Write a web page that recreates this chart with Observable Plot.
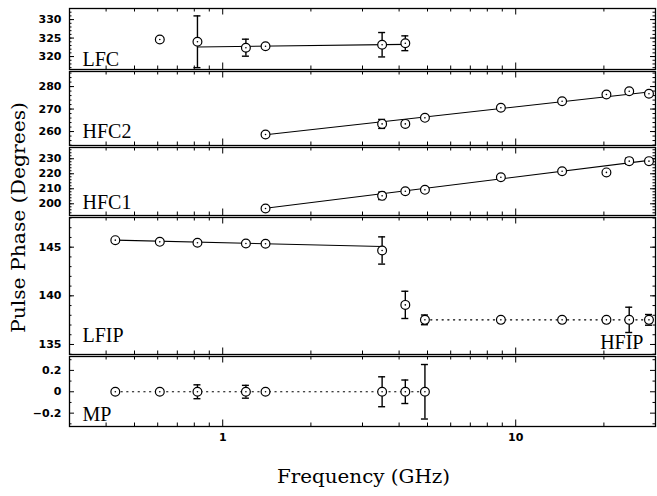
<!DOCTYPE html>
<html><head><meta charset="utf-8">
<script src="https://cdn.jsdelivr.net/npm/d3@7"></script>
<script src="https://cdn.jsdelivr.net/npm/@observablehq/plot@0.6"></script>
<style>
body{margin:0;background:#fff}
#chart{position:relative;width:657px;height:496px;overflow:hidden;background:#fff}
#chart svg{position:absolute;left:0}
</style></head><body><div id="chart"></div>
<script>
// ---------- data ----------
const xDomain = [0.3, 30];
const xMajor = [1, 10];
const xMinor = [0.4, 0.5, 0.6, 0.7, 0.8, 0.9, 2, 3, 4, 5, 6, 7, 8, 9, 20];

const lfcFreq  = [0.61, 0.82, 1.2, 1.4, 3.5, 4.2];
const lfcPhase = [324.6, 324.0, 322.4, 322.8, 323.2, 323.6];
const lfcErr   = [0, 7.0, 2.3, 0, 3.3, 2.0];
const lfcFitFreq  = [0.82, 4.2];
const lfcFitPhase = [322.6, 323.3];
const lfcMajor = [320, 325, 330];

const hfc2Freq  = [1.4, 3.5, 4.2, 4.9, 8.9, 14.4, 20.4, 24.4, 28.5];
const hfc2Phase = [258.7, 263.4, 263.4, 266.1, 270.6, 273.5, 276.5, 277.9, 276.8];
const hfc2Err   = [0, 2.0, 0, 0, 0, 0, 0, 0, 0];
const hfc2FitFreq  = [1.4, 28.5];
const hfc2FitPhase = [258.6, 277.6];
const hfc2Major = [260, 270, 280];

const hfc1Freq  = [1.4, 3.5, 4.2, 4.9, 8.9, 14.4, 20.4, 24.4, 28.5];
const hfc1Phase = [196.9, 205.3, 208.4, 209.3, 217.7, 221.7, 220.9, 228.4, 228.4];
const hfc1Err   = [0, 2.5, 0, 0, 0, 0, 0, 2.0, 0];
const hfc1FitFreq  = [1.4, 28.5];
const hfc1FitPhase = [197.0, 228.9];
const hfc1Major = [200, 210, 220, 230];

const lfipFreq  = [0.43, 0.61, 0.82, 1.2, 1.4, 3.5];
const lfipPhase = [145.72, 145.55, 145.45, 145.38, 145.35, 144.66];
const lfipErr   = [0, 0, 0, 0, 0, 1.4];
const lfipFitFreq  = [0.43, 3.5];
const lfipFitPhase = [145.72, 145.07];

const hfipFreq  = [4.2, 4.9, 8.9, 14.4, 20.4, 24.4, 28.5];
const hfipPhase = [139.07, 137.53, 137.53, 137.53, 137.53, 137.53, 137.53];
const hfipErr   = [1.4, 0.5, 0, 0, 0, 1.3, 0.55];
const hfipFitFreq  = [4.9, 28.5];
const hfipFitPhase = [137.53, 137.53];
const lfipMajor = [135, 140, 145];

const mpFreq  = [0.43, 0.61, 0.82, 1.2, 1.4, 3.5, 4.2, 4.9];
const mpPhase = [0, 0, 0, 0, 0, 0, 0, 0];
const mpErr   = [0, 0, 0.065, 0.06, 0, 0.14, 0.11, 0.255];
const mpFitFreq  = [0.43, 4.9];
const mpFitPhase = [0, 0];
const mpMajor = [-0.2, 0, 0.2];

const yTitle = "Pulse Phase (Degrees)";
const xTitle = "Frequency (GHz)";

// ---------- layout ----------
const LEFT = 69, RIGHT = 655, WIDTH = 657;
const zip = (f, p, e) => f.map((v, i) => ({f: v, p: p[i], e: e ? e[i] : 0}));
const fmt = d => (d < 0 ? "\u2212" : "") + String(Math.abs(d));

const panels = [
  {top: 8, bottom: 69, domain: [316.5, 333], major: lfcMajor, minor: d3.range(317, 333.5, 1),
   series: [{pts: zip(lfcFreq, lfcPhase, lfcErr), fit: zip(lfcFitFreq, lfcFitPhase), dotted: false}],
   labels: [{text: "LFC", anchor: "left", dy: 4}]},
  {top: 71, bottom: 145, domain: [253.8, 286.7], major: hfc2Major, minor: d3.range(254, 287, 2),
   series: [{pts: zip(hfc2Freq, hfc2Phase, hfc2Err), fit: zip(hfc2FitFreq, hfc2FitPhase), dotted: false}],
   labels: [{text: "HFC2", anchor: "left", dy: 7.5}]},
  {top: 147, bottom: 215, domain: [192.2, 237.5], major: hfc1Major, minor: d3.range(194, 237, 2),
   series: [{pts: zip(hfc1Freq, hfc1Phase, hfc1Err), fit: zip(hfc1FitFreq, hfc1FitPhase), dotted: false}],
   labels: [{text: "HFC1", anchor: "left", dy: 7}]},
  {top: 217, bottom: 354, domain: [133.97, 148.05], major: lfipMajor, minor: d3.range(134, 148.5, 1),
   series: [{pts: zip(lfipFreq, lfipPhase, lfipErr), fit: zip(lfipFitFreq, lfipFitPhase), dotted: false},
            {pts: zip(hfipFreq, hfipPhase, hfipErr), fit: zip(hfipFitFreq, hfipFitPhase), dotted: true}],
   labels: [{text: "LFIP", anchor: "left", dy: 13}, {text: "HFIP", anchor: "right", dy: 6}]},
  {top: 356, bottom: 426, domain: [-0.325, 0.33], major: mpMajor, minor: [-0.3, -0.1, 0.1, 0.3],
   series: [{pts: zip(mpFreq, mpPhase, mpErr), fit: zip(mpFitFreq, mpFitPhase), dotted: true}],
   labels: [{text: "MP", anchor: "left", dy: 6}], xLabels: true}
];

const chart = document.getElementById("chart");

panels.forEach(cfg => {
  const H = cfg.bottom - cfg.top;
  const W = RIGHT - LEFT;
  const mt = 1, mb = cfg.xLabels ? 30 : 1;
  const marks = [];
  const xt = (vals, len) => [
    Plot.ruleX(vals, {x: d => d, insetBottom: H - len, stroke: "black", strokeWidth: 1}),
    Plot.ruleX(vals, {x: d => d, insetTop: H - len, stroke: "black", strokeWidth: 1})
  ];
  const yt = (vals, len) => [
    Plot.ruleY(vals, {y: d => d, insetRight: W - len, stroke: "black", strokeWidth: 1}),
    Plot.ruleY(vals, {y: d => d, insetLeft: W - len, stroke: "black", strokeWidth: 1})
  ];
  marks.push(...xt(xMajor, 6.5), ...xt(xMinor, 3.5), ...yt(cfg.major, 5), ...yt(cfg.minor, 2.5));
  cfg.series.forEach(s => {
    const ep = s.pts.filter(d => d.e > 0);
    marks.push(
      Plot.ruleX(ep, {x: "f", y1: d => d.p - d.e, y2: d => d.p + d.e, stroke: "black", strokeWidth: 1.4}),
      Plot.ruleY(ep, {y: d => d.p + d.e, x1: "f", x2: "f", insetLeft: -3.5, insetRight: -3.5, stroke: "black", strokeWidth: 1.4}),
      Plot.ruleY(ep, {y: d => d.p - d.e, x1: "f", x2: "f", insetLeft: -3.5, insetRight: -3.5, stroke: "black", strokeWidth: 1.4}),
      Plot.line(s.fit, {x: "f", y: "p", stroke: "black", strokeWidth: 1.1,
        strokeDasharray: s.dotted ? "1.3,4.4" : null, strokeLinecap: s.dotted ? "round" : null})
    );
  });
  cfg.series.forEach(s => {
    marks.push(
      Plot.dot(s.pts, {x: "f", y: "p", r: 4.4, stroke: "black", fill: "white", strokeWidth: 1.2}),
      Plot.dot(s.pts, {x: "f", y: "p", r: 0.8, fill: "black", stroke: null})
    );
  });
  marks.push(Plot.axisY({ticks: cfg.major, tickSize: 0, tickPadding: 8, label: null, tickFormat: fmt,
    fontFamily: "DejaVu Sans", fontSize: 11, fontWeight: "bold", fill: "black"}));
  if (cfg.xLabels) {
    marks.push(Plot.axisX({ticks: xMajor, tickSize: 0, tickPadding: 7, label: null, tickFormat: fmt,
      fontFamily: "DejaVu Sans", fontSize: 11, fontWeight: "bold", fill: "black"}));
  }
  cfg.labels.forEach(l => {
    marks.push(Plot.text([l.text], {
      frameAnchor: l.anchor === "left" ? "bottom-left" : "bottom-right",
      textAnchor: l.anchor === "left" ? "start" : "end",
      lineAnchor: "bottom",
      dx: l.anchor === "left" ? 13 : -12, dy: -l.dy,
      fontFamily: "Liberation Serif", fontSize: 20, fontWeight: "normal", fill: "black"
    }));
  });
  marks.push(Plot.frame({stroke: "black", strokeWidth: 1.3}));

  const svg = Plot.plot({
    width: WIDTH, height: H + mt + mb,
    marginLeft: LEFT, marginRight: WIDTH - RIGHT, marginTop: mt, marginBottom: mb,
    x: {type: "log", domain: xDomain, axis: null},
    y: {domain: cfg.domain, axis: null},
    style: {background: "transparent", overflow: "visible", fontFamily: "DejaVu Sans"},
    marks
  });
  svg.style.top = (cfg.top - mt) + "px";
  chart.appendChild(svg);
});

// axis titles
const ns = "http://www.w3.org/2000/svg";
const over = document.createElementNS(ns, "svg");
over.setAttribute("width", WIDTH); over.setAttribute("height", 496);
over.style.top = "0px"; over.style.pointerEvents = "none";
const ytl = document.createElementNS(ns, "text");
ytl.setAttribute("transform", "translate(25,217.5) rotate(-90)");
ytl.setAttribute("text-anchor", "middle");
ytl.setAttribute("font-family", "DejaVu Serif");
ytl.setAttribute("font-size", "18");
ytl.setAttribute("textLength", "231");
ytl.setAttribute("lengthAdjust", "spacingAndGlyphs");
ytl.textContent = yTitle;
over.appendChild(ytl);
const xtl = document.createElementNS(ns, "text");
xtl.setAttribute("x", 363.5); xtl.setAttribute("y", 483);
xtl.setAttribute("text-anchor", "middle");
xtl.setAttribute("font-family", "DejaVu Serif");
xtl.setAttribute("font-size", "18");
xtl.setAttribute("textLength", "173");
xtl.setAttribute("lengthAdjust", "spacingAndGlyphs");
xtl.textContent = xTitle;
over.appendChild(xtl);
chart.appendChild(over);
</script></body></html>
